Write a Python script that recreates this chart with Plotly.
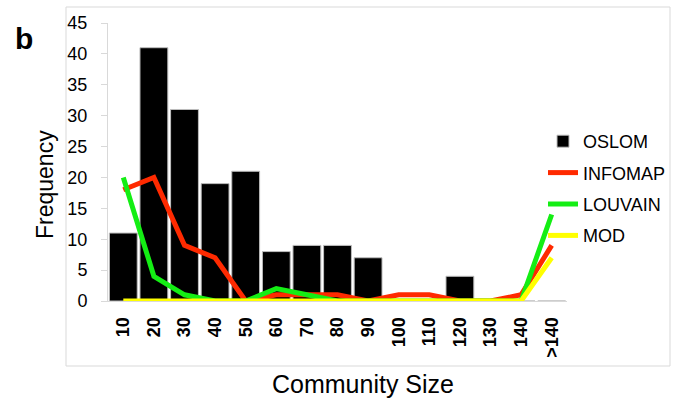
import plotly.graph_objects as go

# Community size bins and frequency per algorithm
sizes = ["10", "20", "30", "40", "50", "60", "70", "80", "90", "100",
         "110", "120", "130", "140", ">140"]
oslom = [11, 41, 31, 19, 21, 8, 9, 9, 7, 0, 0, 4, 0, 0, 0]
infomap = [18, 20, 9, 7, 0, 1, 1, 1, 0, 1, 1, 0, 0, 1, 9]
louvain = [20, 4, 1, 0, 0, 2, 1, 0, 0, 0, 0, 0, 0, 0, 14]
mod = [0, 0, 0, 0, 0, 0, 0, 0, 0, 0, 0, 0, 0, 0, 7]
y_ticks = [0, 5, 10, 15, 20, 25, 30, 35, 40, 45]

W, H = 683, 403
L, R, T, B = 108, 116, 23, 102
pw, ph = W - L - R, H - T - B


def px_x(x):
    return (x - L) / pw


def px_y(y):
    return (H - B - y) / ph


font = "Liberation Sans, Arial, sans-serif"
fig = go.Figure()
fig.add_trace(go.Bar(
    x=sizes, y=oslom, name="OSLOM", legendgroup="a",
    marker=dict(color="black", line=dict(color="#bdbdbd", width=1)),
))
for name, vals, col, grp in [("INFOMAP", infomap, "#ff2a00", "b"),
                             ("LOUVAIN", louvain, "#14ee14", "c"),
                             ("MOD", mod, "#ffff00", "d")]:
    fig.add_trace(go.Scatter(
        x=sizes, y=vals, name=name, mode="lines", legendgroup=grp,
        line=dict(color=col, width=5), cliponaxis=False,
    ))

fig.update_layout(
    width=W, height=H,
    margin=dict(l=L, r=R, t=T, b=B, autoexpand=False),
    paper_bgcolor="white", plot_bgcolor="white",
    bargap=0.09,
    showlegend=True,
    legend=dict(x=px_x(543), y=px_y(123), xanchor="left", yanchor="top",
                font=dict(family=font, size=18, color="black"),
                bgcolor="rgba(0,0,0,0)", traceorder="grouped",
                tracegroupgap=5, itemwidth=30),
    xaxis=dict(type="category", range=[-0.5, 14.5],
               showline=True, linecolor="#d9d9d9", linewidth=1,
               ticks="", tickangle=-90, ticklabelstandoff=8,
               tickfont=dict(family=font, size=18, color="black"),
               tickvals=sizes, ticktext=["<b>%s</b>" % s.replace(">", "&gt;") for s in sizes],
               showgrid=False, zeroline=False),
    yaxis=dict(range=[0, 45], tickvals=y_ticks,
               showline=True, linecolor="#d9d9d9", linewidth=1,
               ticks="outside", ticklen=6, tickcolor="#d9d9d9",
               ticklabelstandoff=10,
               tickfont=dict(family=font, size=18, color="black"),
               showgrid=False, zeroline=False),
    shapes=[dict(type="rect", xref="paper", yref="paper",
                 x0=px_x(66), x1=px_x(670), y0=px_y(366), y1=px_y(7),
                 line=dict(color="#d9d9d9", width=1), layer="below")],
    annotations=[
        dict(text="<b>b</b>", xref="paper", yref="paper",
             x=px_x(24), y=px_y(38), xanchor="center", yanchor="middle",
             showarrow=False,
             font=dict(family=font, size=30, color="black")),
        dict(text="Frequency", xref="paper", yref="paper",
             x=px_x(45), y=px_y(184), xanchor="center", yanchor="middle",
             showarrow=False, textangle=-90,
             font=dict(family=font, size=23, color="black")),
        dict(text="Community Size", xref="paper", yref="paper",
             x=px_x(363), y=px_y(384), xanchor="center", yanchor="middle",
             showarrow=False,
             font=dict(family=font, size=25, color="black")),
    ],
)

fig.write_html("out.html")
